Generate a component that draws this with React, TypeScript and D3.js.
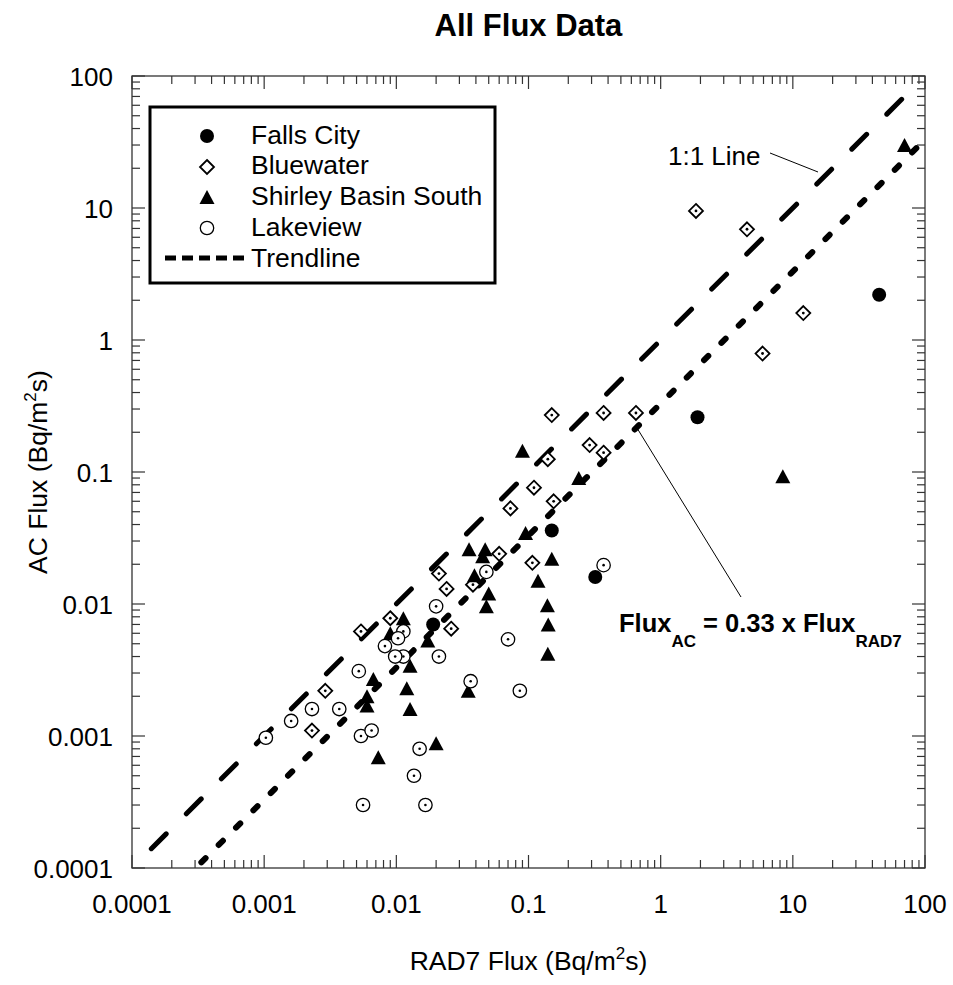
import React from "react";
import * as d3 from "d3";

// ---------- data ----------
const fallsCityX = [45, 1.9, 0.15, 0.32, 0.019];
const fallsCityY = [2.2, 0.26, 0.036, 0.016, 0.007];

const bluewaterX = [1.85, 4.5, 12, 5.9, 0.65, 0.37, 0.37, 0.15, 0.29, 0.14, 0.11, 0.073, 0.155, 0.107, 0.06, 0.021, 0.024, 0.038, 0.009, 0.026, 0.0054, 0.0029, 0.0023];
const bluewaterY = [9.5, 6.9, 1.6, 0.79, 0.28, 0.28, 0.14, 0.27, 0.16, 0.125, 0.076, 0.053, 0.06, 0.0205, 0.024, 0.017, 0.013, 0.014, 0.0078, 0.0065, 0.0062, 0.0022, 0.0011];

const shirleyX = [70, 8.4, 0.09, 0.24, 0.095, 0.15, 0.118, 0.139, 0.141, 0.14, 0.0355, 0.047, 0.045, 0.039, 0.05, 0.048, 0.0113, 0.0173, 0.0127, 0.0067, 0.006, 0.006, 0.012, 0.0127, 0.035, 0.02, 0.0073, 0.009];
const shirleyY = [30, 0.093, 0.145, 0.09, 0.0345, 0.022, 0.015, 0.0098, 0.007, 0.0042, 0.026, 0.026, 0.023, 0.0165, 0.012, 0.0096, 0.0078, 0.0053, 0.0034, 0.0027, 0.002, 0.0017, 0.0023, 0.0016, 0.0022, 0.00088, 0.00069, 0.006];

const lakeviewX = [0.37, 0.048, 0.02, 0.0113, 0.0082, 0.0103, 0.0113, 0.0098, 0.021, 0.0052, 0.0365, 0.086, 0.07, 0.0037, 0.0054, 0.0065, 0.015, 0.0136, 0.0056, 0.0166, 0.00103, 0.0016, 0.0023];
const lakeviewY = [0.0197, 0.0175, 0.0096, 0.0062, 0.0048, 0.0055, 0.004, 0.004, 0.004, 0.0031, 0.0026, 0.0022, 0.0054, 0.0016, 0.001, 0.0011, 0.0008, 0.0005, 0.0003, 0.0003, 0.00097, 0.0013, 0.0016];

const oneToOneX = [0.00014, 80];
const trendSlope = 0.33;
const trendX = [0.0001, 100];

const decades = [-4, -3, -2, -1, 0, 1, 2];
const tickLabels = ["0.0001", "0.001", "0.01", "0.1", "1", "10", "100"];
const legendNames = ["Falls City", "Bluewater", "Shirley Basin South", "Lakeview", "Trendline"];

// ---------- layout ----------
const L = 132, R = 925, T = 76, B = 868;
const FONT = "'Liberation Sans', Arial, Helvetica, sans-serif";

const x = d3.scaleLog().domain([1e-4, 100]).range([L, R]);
const y = d3.scaleLog().domain([1e-4, 100]).range([B, T]);

const majors = decades.map((d) => Math.pow(10, d));
const minors: number[] = [];
decades.slice(0, -1).forEach((d) => {
  for (let m = 2; m <= 9; m++) minors.push(m * Math.pow(10, d));
});

function Diamond({ cx, cy, dot = true }: { cx: number; cy: number; dot?: boolean }) {
  const s = 7;
  return (
    <g>
      <path d={`M${cx},${cy - s}L${cx + s},${cy}L${cx},${cy + s}L${cx - s},${cy}Z`} fill="white" stroke="black" strokeWidth={1.8} />
      {dot && <circle cx={cx} cy={cy} r={1.4} fill="black" />}
    </g>
  );
}
function Tri({ cx, cy }: { cx: number; cy: number }) {
  const w = 7.5, h = 14;
  return <path d={`M${cx},${cy - h / 2}L${cx + w},${cy + h / 2}L${cx - w},${cy + h / 2}Z`} fill="black" />;
}
function OpenCircle({ cx, cy, dot = true }: { cx: number; cy: number; dot?: boolean }) {
  return (
    <g>
      <circle cx={cx} cy={cy} r={6.7} fill="white" stroke="black" strokeWidth={1.3} />
      {dot && <circle cx={cx} cy={cy} r={1.3} fill="black" />}
    </g>
  );
}

export default function App() {
  const line = d3.line<[number, number]>().x((d) => x(d[0])).y((d) => y(d[1]));
  const oneLine = line(oneToOneX.map((v) => [v, v] as [number, number]))!;
  const trendLine = line(trendX.map((v) => [v, v * trendSlope] as [number, number]))!;

  return (
    <svg width={953} height={985} style={{ display: "block", position: "absolute", left: 0, top: 0, background: "white" }} fontFamily={FONT}>
      <rect x={0} y={0} width={953} height={985} fill="white" />
      <defs>
        <clipPath id="plotclip">
          <rect x={L} y={T} width={R - L} height={B - T} />
        </clipPath>
      </defs>

      {/* title */}
      <text x={(L + R) / 2} y={36} textAnchor="middle" fontSize={31} fontWeight="bold">All Flux Data</text>

      {/* frame */}
      <rect x={L} y={T} width={R - L} height={B - T} fill="none" stroke="#333" strokeWidth={1.3} />

      {/* ticks */}
      <g stroke="#333" strokeWidth={1.2}>
        {majors.map((v, i) => (
          <g key={"mj" + i}>
            <line x1={x(v)} x2={x(v)} y1={B} y2={B - 13} />
            <line x1={x(v)} x2={x(v)} y1={T} y2={T + 13} />
            <line x1={L} x2={L + 13} y1={y(v)} y2={y(v)} />
            <line x1={R} x2={R - 13} y1={y(v)} y2={y(v)} />
          </g>
        ))}
        {minors.map((v, i) => (
          <g key={"mn" + i}>
            <line x1={x(v)} x2={x(v)} y1={B} y2={B - 8} />
            <line x1={x(v)} x2={x(v)} y1={T} y2={T + 8} />
            <line x1={L} x2={L + 8} y1={y(v)} y2={y(v)} />
            <line x1={R} x2={R - 8} y1={y(v)} y2={y(v)} />
          </g>
        ))}
      </g>

      {/* tick labels */}
      {majors.map((v, i) => (
        <text key={"xl" + i} x={x(v)} y={B + 45} textAnchor="middle" fontSize={26}>{tickLabels[i]}</text>
      ))}
      {majors.map((v, i) => (
        <text key={"yl" + i} x={L - 19} y={y(v) + 9.5} textAnchor="end" fontSize={26}>{tickLabels[i]}</text>
      ))}

      {/* axis titles */}
      <text x={(L + R) / 2} y={970} textAnchor="middle" fontSize={26.5}>
        RAD7 Flux (Bq/m<tspan dy={-11} fontSize={17}>2</tspan><tspan dy={11}>s)</tspan>
      </text>
      <text transform={`translate(47,${(T + B) / 2}) rotate(-90)`} textAnchor="middle" fontSize={26.5}>
        AC Flux (Bq/m<tspan dy={-11} fontSize={17}>2</tspan><tspan dy={11}>s)</tspan>
      </text>

      {/* lines */}
      <g clipPath="url(#plotclip)" fill="none" stroke="black">
        <path d={oneLine} strokeWidth={5} strokeDasharray="21 28.5" strokeLinecap="round" />
        <path d={trendLine} strokeWidth={6} strokeDasharray="6 18.5" strokeLinecap="round" />
      </g>

      {/* markers */}
      <g>
        {bluewaterX.map((v, i) => <Diamond key={"b" + i} cx={x(v)} cy={y(bluewaterY[i])} />)}
        {shirleyX.map((v, i) => <Tri key={"s" + i} cx={x(v)} cy={y(shirleyY[i])} />)}
        {lakeviewX.map((v, i) => <OpenCircle key={"l" + i} cx={x(v)} cy={y(lakeviewY[i])} />)}
        {fallsCityX.map((v, i) => <circle key={"f" + i} cx={x(v)} cy={y(fallsCityY[i])} r={7} fill="black" />)}
      </g>

      {/* annotations */}
      <text x={668} y={165} fontSize={26}>1:1 Line</text>
      <line x1={770} y1={153} x2={818} y2={172} stroke="black" strokeWidth={1} />
      <line x1={637} y1={428} x2={741} y2={597} stroke="black" strokeWidth={1} />
      <text x={619} y={632} fontSize={25.5} fontWeight="bold">
        Flux<tspan dy={15} fontSize={17}>AC</tspan><tspan dy={-15}> = 0.33 x Flux</tspan><tspan dy={15} fontSize={17}>RAD7</tspan>
      </text>

      {/* legend */}
      <rect x={150} y={107} width={345} height={176} fill="white" stroke="black" strokeWidth={3} />
      <circle cx={207} cy={136} r={7} fill="black" />
      <Diamond cx={207} cy={167} dot={false} />
      <Tri cx={207} cy={197} />
      <OpenCircle cx={207} cy={228} dot={false} />
      <line x1={165} x2={245} y1={258} y2={258} stroke="black" strokeWidth={5} strokeDasharray="11 6" />
      {legendNames.map((n, i) => (
        <text key={n} x={251} y={143.5 + i * 30.8} fontSize={26.5}>{n}</text>
      ))}
    </svg>
  );
}
